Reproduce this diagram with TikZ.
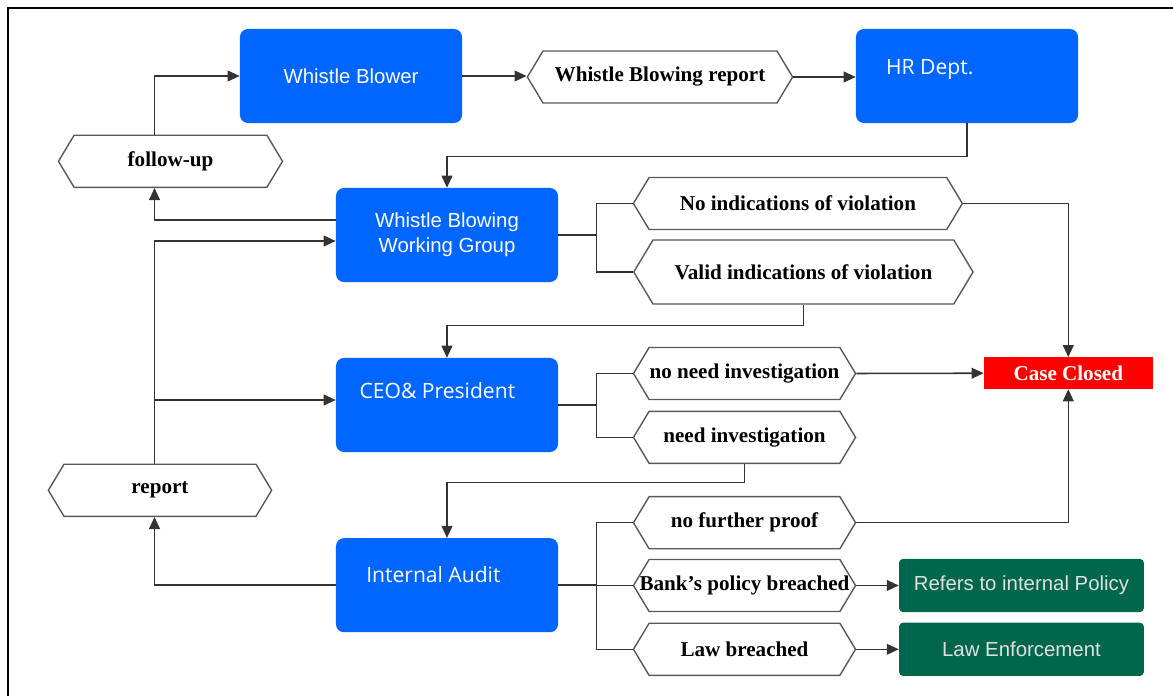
\documentclass[tikz,border=0pt]{standalone}
\usepackage{fontspec}
\setmainfont{Liberation Serif}
\newfontfamily\arialfont{Liberation Sans}
\newfontfamily\segoefont{Open Sans}
\usetikzlibrary{shapes,positioning,calc,arrows.meta}
\definecolor{wbblue}{HTML}{0066FF}
\definecolor{wbgreen}{HTML}{00664C}
\definecolor{wbred}{HTML}{FF0000}
\colorlet{linegray}{black!80}
\colorlet{hexgray}{black!65}

\begin{document}
\begin{tikzpicture}[x=0.025cm, y=-0.025cm,
  actor/.style={rectangle, rounded corners=0.2cm, fill=wbblue, text=white, minimum width=5.55cm, minimum height=2.35cm, align=center, font=\arialfont\fontsize{14.5}{17.5}\selectfont},
  actor text/.style={text=white, font=\segoefont\fontsize{15}{18}\selectfont},
  outcome/.style={rectangle, rounded corners=0.1cm, fill=wbgreen, text=white!88!black, minimum width=6.12cm, minimum height=1.33cm, font=\arialfont\fontsize{14.5}{17.5}\selectfont},
  closed/.style={rectangle, fill=wbred, text=white, minimum width=4.22cm, minimum height=0.79cm, inner sep=0pt, font=\bfseries\fontsize{15}{18}\selectfont},
  hexa/.style={signal, signal from=nowhere, signal to=west and east, signal pointer angle=118, draw=hexgray, line width=1pt, fill=white, inner sep=0pt, minimum width=#1, minimum height=1.3cm, font=\bfseries\fontsize{15}{18}\selectfont},
  link/.style={draw=linegray, line width=1.1pt},
  arrow/.style={link, -{Triangle[length=3mm, width=2.7mm]}}
]
\useasboundingbox (0,0) rectangle (1173,696);

% FRAME
\draw[line width=1.2pt] (1173,8) -- (8,8) -- (8,696);

% ACTORS
\node[actor] (wb) at (351,76) {Whistle Blower};

\node[hexa=6.63cm] (wbr) at (660,77) {Whistle Blowing report};

\node[actor, label={[actor text, xshift=-0.93cm, yshift=0.15cm]center:HR Dept.}] (hr) at (967,76) {};

\node[hexa=5.6cm] (follow) at (170.5,161.3) {follow-up};

\node[actor] (wg) at (447,235) {Whistle Blowing\\Working Group};

\node[hexa=8.22cm] (noviol) at (797.9,203.5) {No indications of violation};

\node[hexa=8.48cm, minimum height=1.6cm] (valid) at (803.4,272) {Valid indications of violation};

\node[actor, label={[actor text, xshift=-0.24cm, yshift=0.37cm]center:CEO\& President}] (ceo) at (447,405) {};

\node[hexa=5.55cm] (nni) at (744.5,373.5) {no need investigation};

\node[hexa=5.55cm, below=0.26cm of nni] (ni) {need investigation};

\node[hexa=5.58cm] (report) at (160,490.3) {report};

\node[actor, label={[actor text, xshift=-0.34cm, yshift=0.26cm]center:Internal Audit}] (ia) at (447,585.2) {};

\node[hexa=5.55cm] (nfp) at (744.5,522.7) {no further proof};

\node[hexa=5.55cm] (bank) at (744.5,585.5) {\makebox[0pt]{Bank’s policy breached}};

\node[hexa=5.55cm] (law) at (744.5,649.3) {Law breached};

% OUTCOMES
\node[closed] (case) at (1068.3,373.2) {Case Closed};

\node[outcome, right=1.06cm of bank] (refers) {Refers to internal Policy};

\node[outcome, right=1.06cm of law] (lawenf) {Law Enforcement};

% CONNECTORS
\coordinate (spine) at (154.5,0);
\draw[arrow] (spine |- follow.north) |- (wb.west);
\draw[arrow] (wb.east) -- (wb.east -| wbr.west);
\draw[arrow] (wbr.east) -- (wbr.east -| hr.west);
\draw[arrow] (hr.south) -- ++(0,33) -| (wg.north);
\draw[arrow] ($(wg.west)+(0,-15)$) -| (spine |- follow.south);
\draw[arrow] (spine |- report.north) |- ($(wg.west)+(0,6)$);
\coordinate (ceoin) at ($(ceo.west)+(0,-5)$);
\draw[arrow] (spine |- ceoin) -- (ceoin);
\draw[arrow] (ia.west) -| (spine |- report.south);

\coordinate (wgfork) at ($(wg.east)+(38,0)$);
\draw[link] (wg.east) -- (wgfork) |- (noviol.west);
\draw[link] (wgfork) |- (valid.west);
\draw[arrow] (noviol.east) -| (case.north);
\draw[arrow] (valid.south) -- ++(0,21) -| (ceo.north);

\coordinate (ceofork) at ($(ceo.east)+(38,0)$);
\draw[link] (ceo.east) -- (ceofork) |- (nni.west);
\draw[link] (ceofork) |- (ni.west);
\draw[arrow] (nni.east) -- (case.west);
\draw[arrow] (ni.south) -- ++(0,18.5) -| (ia.north);

\coordinate (iafork) at ($(ia.east)+(38,0)$);
\draw[link] (ia.east) -- (iafork) |- (nfp.west);
\draw[link] (iafork) |- (law.west);
\draw[link] (iafork) -- (iafork |- bank.west) -- (bank.west);
\draw[arrow] (nfp.east) -| (case.south);
\draw[arrow] (bank.east) -- (refers.west);
\draw[arrow] (law.east) -- (lawenf.west);

\end{tikzpicture}
\end{document}
